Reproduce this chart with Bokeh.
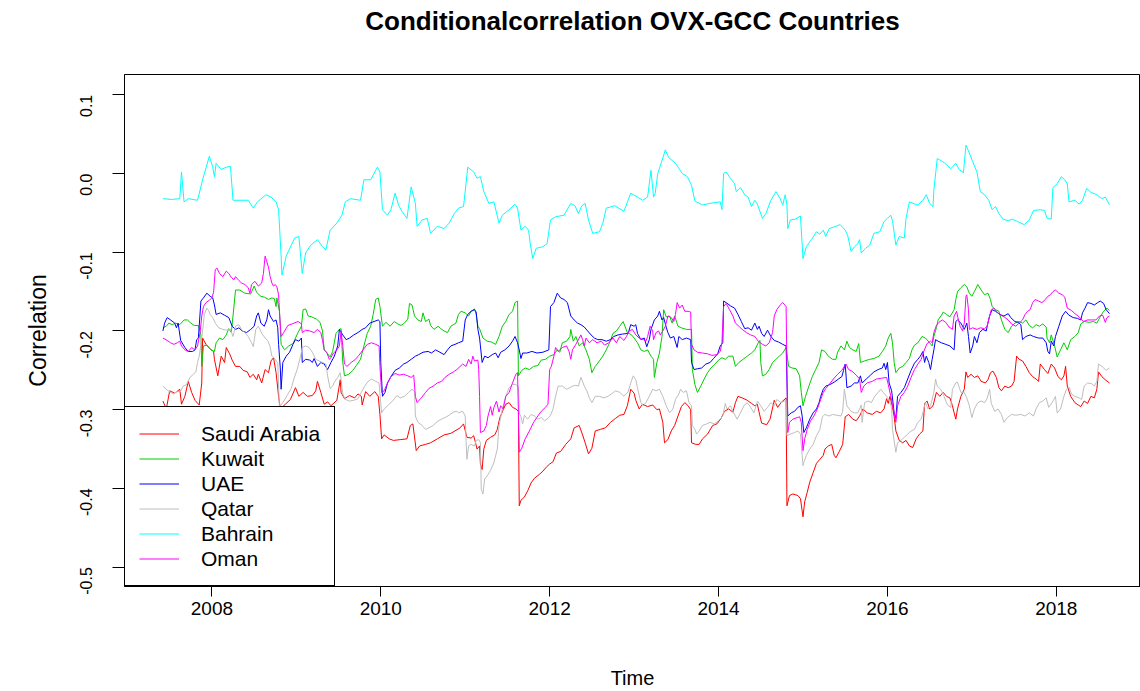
import math
from bokeh.plotting import figure
from bokeh.models import (ColumnDataSource, FixedTicker, PrintfTickFormatter,
                          Legend, LegendItem, Range1d, Title)
from bokeh.embed import file_html
from bokeh.resources import INLINE

TITLE = "Conditionalcorrelation OVX-GCC Countries"
X_LABEL = "Time"
Y_LABEL = "Correlation"
X_TICKS = [2008, 2010, 2012, 2014, 2016, 2018]
Y_TICKS = [-0.5, -0.4, -0.3, -0.2, -0.1, 0.0, 0.1]
NAMES = ["Saudi Arabia", "Kuwait", "UAE", "Qatar", "Bahrain", "Oman"]
COLORS = ["#FF0000", "#00CD00", "#0000FF", "#BEBEBE", "#00FFFF", "#FF00FF"]

SAUDI = [(2007.42,-0.289),(2007.46,-0.299),(2007.50,-0.276),(2007.56,-0.279),(2007.62,-0.274),(2007.64,-0.293),(2007.68,-0.283),(2007.72,-0.264),(2007.76,-0.278),(2007.80,-0.288),(2007.85,-0.294),(2007.88,-0.266),(2007.89,-0.209),(2007.93,-0.217),(2007.98,-0.223),(2008.02,-0.226),(2008.03,-0.236),(2008.07,-0.257),(2008.11,-0.232),(2008.15,-0.240),(2008.17,-0.221),(2008.21,-0.229),(2008.24,-0.237),(2008.28,-0.245),(2008.33,-0.245),(2008.37,-0.250),(2008.42,-0.252),(2008.45,-0.259),(2008.49,-0.255),(2008.53,-0.262),(2008.55,-0.255),(2008.59,-0.266),(2008.63,-0.249),(2008.67,-0.253),(2008.70,-0.238),(2008.73,-0.234),(2008.76,-0.253),(2008.79,-0.283),(2008.81,-0.299),(2008.87,-0.293),
(2008.93,-0.287),(2008.99,-0.272),(2009.03,-0.283),(2009.08,-0.278),(2009.13,-0.283),(2009.19,-0.282),(2009.23,-0.276),(2009.25,-0.264),(2009.29,-0.278),(2009.33,-0.293),(2009.37,-0.290),(2009.41,-0.295),(2009.48,-0.288),(2009.52,-0.262),(2009.53,-0.278),(2009.57,-0.286),(2009.63,-0.282),(2009.69,-0.285),(2009.73,-0.280),(2009.77,-0.283),(2009.78,-0.294),(2009.82,-0.277),(2009.87,-0.283),(2009.93,-0.277),(2009.97,-0.283),(2009.99,-0.306),(2010.01,-0.337),(2010.04,-0.332),(2010.10,-0.337),(2010.15,-0.339),(2010.23,-0.338),(2010.31,-0.337),(2010.35,-0.320),(2010.38,-0.318),(2010.42,-0.352),(2010.46,-0.346),(2010.53,-0.344),(2010.59,-0.342),(2010.67,-0.337),(2010.75,-0.332),(2010.83,-0.330),
(2010.94,-0.323),(2010.98,-0.318),(2011.02,-0.335),(2011.07,-0.336),(2011.10,-0.333),(2011.12,-0.341),(2011.14,-0.350),(2011.17,-0.346),(2011.18,-0.369),(2011.20,-0.376),(2011.22,-0.350),(2011.25,-0.339),(2011.30,-0.335),(2011.35,-0.332),(2011.38,-0.325),(2011.41,-0.310),(2011.45,-0.300),(2011.48,-0.293),(2011.52,-0.291),(2011.56,-0.297),(2011.60,-0.299),(2011.63,-0.302),(2011.64,-0.422),(2011.66,-0.415),(2011.70,-0.411),(2011.74,-0.403),(2011.78,-0.393),(2011.82,-0.387),(2011.88,-0.382),(2011.92,-0.378),(2011.96,-0.373),(2012.00,-0.369),(2012.04,-0.366),(2012.08,-0.355),(2012.13,-0.353),(2012.19,-0.344),(2012.25,-0.337),(2012.29,-0.323),(2012.35,-0.320),(2012.39,-0.332),(2012.42,-0.342),(2012.46,-0.356),(2012.50,-0.349),(2012.54,-0.327),(2012.60,-0.325),(2012.66,-0.323),(2012.72,-0.316),(2012.78,-0.311),(2012.83,-0.307),
(2012.88,-0.306),(2012.92,-0.295),(2012.96,-0.274),(2013.00,-0.279),(2013.02,-0.288),(2013.06,-0.299),(2013.10,-0.293),(2013.16,-0.296),(2013.22,-0.294),(2013.27,-0.300),(2013.30,-0.299),(2013.34,-0.316),(2013.36,-0.342),(2013.40,-0.338),(2013.44,-0.327),(2013.48,-0.320),(2013.52,-0.308),(2013.56,-0.296),(2013.60,-0.291),(2013.64,-0.295),(2013.67,-0.300),(2013.68,-0.342),(2013.73,-0.344),(2013.77,-0.344),(2013.81,-0.337),(2013.87,-0.331),(2013.93,-0.320),(2013.98,-0.318),(2014.03,-0.311),(2014.07,-0.302),(2014.12,-0.299),(2014.17,-0.303),(2014.20,-0.291),(2014.23,-0.283),(2014.28,-0.285),(2014.34,-0.288),(2014.39,-0.292),(2014.43,-0.295),(2014.46,-0.293),(2014.48,-0.303),(2014.51,-0.317),(2014.57,-0.319),(2014.61,-0.312),(2014.66,-0.288),(2014.70,-0.297),(2014.74,-0.291),(2014.80,-0.285),(2014.81,-0.422),
(2014.84,-0.409),(2014.88,-0.407),(2014.94,-0.409),(2014.97,-0.413),(2015.00,-0.436),(2015.02,-0.417),(2015.05,-0.405),(2015.08,-0.392),(2015.12,-0.380),(2015.16,-0.368),(2015.20,-0.363),(2015.24,-0.358),(2015.26,-0.350),(2015.30,-0.346),(2015.34,-0.344),(2015.37,-0.358),(2015.39,-0.361),(2015.43,-0.353),(2015.47,-0.344),(2015.50,-0.309),(2015.54,-0.306),(2015.59,-0.312),(2015.63,-0.314),(2015.67,-0.308),(2015.71,-0.299),(2015.76,-0.304),(2015.82,-0.306),(2015.87,-0.302),(2015.92,-0.304),(2015.96,-0.299),(2015.99,-0.286),(2016.01,-0.292),(2016.03,-0.283),(2016.06,-0.297),(2016.08,-0.309),(2016.10,-0.327),(2016.14,-0.339),(2016.18,-0.342),(2016.22,-0.339),(2016.26,-0.346),(2016.30,-0.348),(2016.34,-0.337),(2016.38,-0.331),(2016.42,-0.327),(2016.44,-0.292),(2016.47,-0.289),(2016.50,-0.299),(2016.54,-0.295),(2016.58,-0.278),(2016.62,-0.283),(2016.66,-0.278),(2016.70,-0.283),(2016.74,-0.285),
(2016.77,-0.295),(2016.79,-0.304),(2016.81,-0.312),(2016.83,-0.299),(2016.87,-0.283),(2016.91,-0.274),(2016.93,-0.252),(2016.95,-0.259),(2016.99,-0.255),(2017.03,-0.259),(2017.07,-0.257),(2017.11,-0.264),(2017.16,-0.266),(2017.19,-0.262),(2017.22,-0.253),(2017.25,-0.251),(2017.29,-0.259),(2017.32,-0.272),(2017.35,-0.276),(2017.39,-0.270),(2017.43,-0.272),(2017.47,-0.270),(2017.50,-0.264),(2017.53,-0.232),(2017.56,-0.236),(2017.60,-0.238),(2017.64,-0.245),(2017.68,-0.253),(2017.72,-0.258),(2017.76,-0.261),(2017.79,-0.264),(2017.81,-0.242),(2017.86,-0.249),(2017.90,-0.254),(2017.94,-0.242),(2017.98,-0.247),(2018.02,-0.258),(2018.06,-0.262),(2018.09,-0.257),(2018.11,-0.245),(2018.13,-0.270),(2018.17,-0.283),(2018.22,-0.291),(2018.26,-0.294),(2018.29,-0.296),(2018.33,-0.289),(2018.37,-0.292),(2018.41,-0.283),(2018.45,-0.285),(2018.48,-0.274),(2018.50,-0.252),(2018.54,-0.258),(2018.58,-0.262),(2018.63,-0.266)]

KUWAIT = [(2007.42,-0.196),(2007.46,-0.194),(2007.49,-0.190),(2007.53,-0.192),(2007.57,-0.190),(2007.62,-0.192),(2007.67,-0.186),(2007.71,-0.186),(2007.75,-0.190),(2007.79,-0.193),(2007.84,-0.193),(2007.87,-0.205),(2007.88,-0.245),(2007.90,-0.219),(2007.94,-0.218),(2007.99,-0.224),(2008.03,-0.226),(2008.05,-0.215),(2008.09,-0.209),(2008.13,-0.211),(2008.17,-0.205),(2008.20,-0.197),(2008.23,-0.202),(2008.25,-0.181),(2008.28,-0.148),(2008.33,-0.148),(2008.39,-0.152),(2008.46,-0.153),(2008.50,-0.143),(2008.53,-0.151),(2008.58,-0.156),(2008.62,-0.157),(2008.67,-0.160),(2008.71,-0.158),(2008.74,-0.159),(2008.76,-0.169),(2008.77,-0.158),(2008.80,-0.175),(2008.82,-0.217),(2008.86,-0.224),(2008.91,-0.219),(2008.96,-0.216),
(2009.02,-0.202),(2009.06,-0.194),(2009.08,-0.173),(2009.11,-0.172),(2009.14,-0.181),(2009.18,-0.182),(2009.24,-0.185),(2009.28,-0.189),(2009.31,-0.200),(2009.33,-0.224),(2009.37,-0.229),(2009.40,-0.233),(2009.43,-0.226),(2009.47,-0.203),(2009.51,-0.198),(2009.53,-0.197),(2009.55,-0.240),(2009.57,-0.257),(2009.62,-0.255),(2009.67,-0.250),(2009.71,-0.244),(2009.76,-0.236),(2009.80,-0.219),(2009.84,-0.203),(2009.88,-0.194),(2009.91,-0.179),(2009.94,-0.160),(2009.97,-0.158),(2009.99,-0.169),(2010.02,-0.194),(2010.06,-0.189),(2010.11,-0.194),(2010.16,-0.188),(2010.20,-0.191),(2010.24,-0.193),(2010.28,-0.190),(2010.32,-0.185),(2010.34,-0.165),(2010.37,-0.167),(2010.40,-0.181),(2010.44,-0.186),(2010.48,-0.188),(2010.50,-0.177),(2010.53,-0.188),(2010.57,-0.185),(2010.59,-0.193),(2010.63,-0.198),(2010.68,-0.194),(2010.71,-0.197),(2010.75,-0.200),(2010.79,-0.202),(2010.83,-0.194),(2010.89,-0.190),
(2010.92,-0.179),(2010.95,-0.175),(2011.00,-0.177),(2011.04,-0.181),(2011.07,-0.175),(2011.11,-0.172),(2011.13,-0.179),(2011.15,-0.194),(2011.17,-0.197),(2011.21,-0.209),(2011.26,-0.213),(2011.31,-0.214),(2011.36,-0.217),(2011.40,-0.207),(2011.44,-0.194),(2011.48,-0.188),(2011.52,-0.179),(2011.56,-0.175),(2011.59,-0.164),(2011.62,-0.162),(2011.63,-0.257),(2011.67,-0.250),(2011.71,-0.247),(2011.76,-0.249),(2011.81,-0.245),(2011.86,-0.244),(2011.90,-0.237),(2011.95,-0.236),(2012.00,-0.232),(2012.05,-0.230),(2012.09,-0.224),(2012.12,-0.227),(2012.15,-0.215),(2012.20,-0.213),(2012.24,-0.207),(2012.25,-0.198),(2012.28,-0.213),(2012.31,-0.207),(2012.35,-0.219),(2012.39,-0.215),(2012.43,-0.224),(2012.47,-0.236),(2012.50,-0.253),(2012.54,-0.245),(2012.59,-0.238),(2012.63,-0.232),(2012.67,-0.224),(2012.71,-0.215),(2012.75,-0.203),(2012.79,-0.200),(2012.83,-0.194),(2012.87,-0.188),
(2012.92,-0.202),(2012.97,-0.205),(2013.00,-0.209),(2013.04,-0.215),(2013.08,-0.224),(2013.12,-0.226),(2013.16,-0.224),(2013.20,-0.232),(2013.23,-0.236),(2013.24,-0.259),(2013.27,-0.240),(2013.30,-0.228),(2013.33,-0.207),(2013.35,-0.173),(2013.38,-0.182),(2013.42,-0.181),(2013.45,-0.190),(2013.48,-0.181),(2013.52,-0.194),(2013.56,-0.196),(2013.62,-0.198),(2013.68,-0.198),(2013.69,-0.249),(2013.72,-0.268),(2013.75,-0.278),(2013.79,-0.270),(2013.83,-0.261),(2013.87,-0.253),(2013.91,-0.247),(2013.96,-0.242),(2014.00,-0.237),(2014.04,-0.234),(2014.08,-0.236),(2014.12,-0.232),(2014.17,-0.232),(2014.20,-0.245),(2014.24,-0.240),(2014.29,-0.236),(2014.34,-0.232),(2014.39,-0.228),(2014.43,-0.224),(2014.47,-0.215),(2014.49,-0.212),(2014.50,-0.240),(2014.52,-0.257),(2014.56,-0.255),(2014.60,-0.249),(2014.64,-0.240),(2014.68,-0.236),(2014.72,-0.232),(2014.76,-0.228),(2014.80,-0.221),(2014.83,-0.245),
(2014.87,-0.247),(2014.92,-0.248),(2014.96,-0.257),(2014.98,-0.278),(2015.00,-0.295),(2015.03,-0.283),(2015.07,-0.270),(2015.11,-0.258),(2015.15,-0.249),(2015.19,-0.240),(2015.22,-0.224),(2015.26,-0.226),(2015.30,-0.232),(2015.35,-0.236),(2015.39,-0.236),(2015.41,-0.227),(2015.45,-0.219),(2015.49,-0.224),(2015.52,-0.213),(2015.55,-0.221),(2015.59,-0.224),(2015.63,-0.226),(2015.66,-0.216),(2015.68,-0.240),(2015.73,-0.238),(2015.79,-0.236),(2015.84,-0.235),(2015.90,-0.232),(2015.94,-0.226),(2015.98,-0.219),(2016.01,-0.209),(2016.04,-0.203),(2016.06,-0.215),(2016.08,-0.240),(2016.10,-0.253),(2016.14,-0.247),(2016.18,-0.245),(2016.22,-0.240),(2016.26,-0.235),(2016.29,-0.224),(2016.32,-0.218),(2016.36,-0.215),(2016.41,-0.207),(2016.45,-0.209),(2016.50,-0.215),(2016.53,-0.219),(2016.55,-0.207),(2016.58,-0.196),(2016.60,-0.186),(2016.64,-0.180),(2016.66,-0.176),(2016.70,-0.179),(2016.74,-0.182),
(2016.79,-0.173),(2016.81,-0.160),(2016.83,-0.150),(2016.87,-0.145),(2016.91,-0.141),(2016.94,-0.144),(2016.97,-0.152),(2017.00,-0.156),(2017.03,-0.150),(2017.07,-0.141),(2017.11,-0.148),(2017.15,-0.154),(2017.19,-0.152),(2017.22,-0.160),(2017.24,-0.169),(2017.28,-0.173),(2017.32,-0.175),(2017.35,-0.186),(2017.39,-0.198),(2017.43,-0.202),(2017.47,-0.194),(2017.51,-0.190),(2017.56,-0.188),(2017.60,-0.190),(2017.64,-0.186),(2017.68,-0.193),(2017.72,-0.196),(2017.76,-0.192),(2017.80,-0.194),(2017.84,-0.191),(2017.88,-0.195),(2017.89,-0.209),(2017.92,-0.215),(2017.94,-0.205),(2017.98,-0.219),(2018.01,-0.233),(2018.05,-0.224),(2018.09,-0.215),(2018.13,-0.224),(2018.17,-0.211),(2018.22,-0.207),(2018.26,-0.202),(2018.29,-0.191),(2018.33,-0.188),(2018.39,-0.189),(2018.44,-0.188),(2018.48,-0.190),(2018.52,-0.182),(2018.56,-0.175),(2018.60,-0.171),(2018.63,-0.174)]

UAE = [(2007.42,-0.200),(2007.44,-0.190),(2007.47,-0.183),(2007.51,-0.186),(2007.56,-0.190),(2007.58,-0.196),(2007.60,-0.190),(2007.63,-0.212),(2007.68,-0.221),(2007.72,-0.226),(2007.77,-0.226),(2007.80,-0.224),(2007.82,-0.211),(2007.84,-0.209),(2007.87,-0.162),(2007.90,-0.158),(2007.94,-0.152),(2007.98,-0.156),(2008.01,-0.158),(2008.03,-0.167),(2008.05,-0.179),(2008.10,-0.177),(2008.15,-0.180),(2008.20,-0.183),(2008.24,-0.194),(2008.28,-0.198),(2008.32,-0.196),(2008.36,-0.200),(2008.41,-0.202),(2008.46,-0.198),(2008.50,-0.194),(2008.53,-0.181),(2008.55,-0.177),(2008.58,-0.190),(2008.62,-0.194),(2008.65,-0.186),(2008.67,-0.173),(2008.69,-0.181),(2008.73,-0.188),(2008.76,-0.186),(2008.78,-0.196),(2008.79,-0.217),(2008.81,-0.247),(2008.82,-0.274),(2008.84,-0.240),(2008.88,-0.232),(2008.92,-0.227),(2008.96,-0.217),
(2008.99,-0.211),(2009.03,-0.213),(2009.06,-0.209),(2009.07,-0.240),(2009.11,-0.236),(2009.16,-0.237),(2009.19,-0.240),(2009.21,-0.235),(2009.25,-0.245),(2009.29,-0.240),(2009.33,-0.242),(2009.37,-0.249),(2009.41,-0.240),(2009.45,-0.232),(2009.49,-0.219),(2009.51,-0.198),(2009.55,-0.205),(2009.59,-0.211),(2009.63,-0.209),(2009.68,-0.205),(2009.73,-0.202),(2009.78,-0.198),(2009.82,-0.196),(2009.87,-0.190),(2009.92,-0.188),(2009.97,-0.186),(2009.99,-0.188),(2010.00,-0.240),(2010.02,-0.283),(2010.05,-0.278),(2010.08,-0.266),(2010.12,-0.258),(2010.17,-0.250),(2010.22,-0.247),(2010.27,-0.242),(2010.31,-0.240),(2010.36,-0.236),(2010.41,-0.232),(2010.45,-0.230),(2010.50,-0.227),(2010.56,-0.226),(2010.60,-0.228),(2010.65,-0.224),(2010.70,-0.227),(2010.75,-0.230),(2010.79,-0.224),(2010.83,-0.219),(2010.88,-0.217),
(2010.92,-0.215),(2010.97,-0.213),(2011.00,-0.186),(2011.03,-0.179),(2011.07,-0.175),(2011.11,-0.173),(2011.13,-0.176),(2011.15,-0.198),(2011.17,-0.209),(2011.18,-0.219),(2011.20,-0.240),(2011.23,-0.232),(2011.27,-0.234),(2011.32,-0.230),(2011.36,-0.228),(2011.39,-0.234),(2011.42,-0.227),(2011.47,-0.224),(2011.52,-0.219),(2011.56,-0.213),(2011.59,-0.207),(2011.62,-0.215),(2011.64,-0.224),(2011.66,-0.235),(2011.68,-0.228),(2011.73,-0.228),(2011.79,-0.226),(2011.85,-0.228),(2011.92,-0.227),(2011.99,-0.224),(2012.01,-0.169),(2012.05,-0.164),(2012.09,-0.152),(2012.13,-0.158),(2012.17,-0.160),(2012.21,-0.164),(2012.25,-0.181),(2012.29,-0.186),(2012.33,-0.190),(2012.37,-0.192),(2012.41,-0.195),(2012.45,-0.200),(2012.49,-0.205),(2012.53,-0.209),(2012.57,-0.211),(2012.62,-0.211),(2012.67,-0.213),(2012.72,-0.211),(2012.76,-0.207),(2012.81,-0.205),(2012.86,-0.204),
(2012.93,-0.203),(2012.96,-0.192),(2013.00,-0.194),(2013.02,-0.192),(2013.04,-0.203),(2013.08,-0.211),(2013.12,-0.209),(2013.15,-0.220),(2013.18,-0.211),(2013.20,-0.198),(2013.24,-0.186),(2013.28,-0.181),(2013.30,-0.175),(2013.33,-0.186),(2013.35,-0.183),(2013.38,-0.195),(2013.40,-0.202),(2013.43,-0.209),(2013.47,-0.207),(2013.51,-0.221),(2013.53,-0.207),(2013.57,-0.211),(2013.62,-0.209),(2013.67,-0.211),(2013.68,-0.240),(2013.71,-0.249),(2013.75,-0.248),(2013.80,-0.247),(2013.85,-0.242),(2013.90,-0.240),(2013.94,-0.235),(2013.99,-0.229),(2014.02,-0.219),(2014.05,-0.215),(2014.06,-0.162),(2014.09,-0.164),(2014.14,-0.168),(2014.19,-0.171),(2014.23,-0.179),(2014.27,-0.188),(2014.31,-0.197),(2014.35,-0.196),(2014.39,-0.199),(2014.43,-0.190),(2014.46,-0.198),(2014.48,-0.194),(2014.51,-0.203),(2014.54,-0.207),(2014.58,-0.199),(2014.62,-0.207),(2014.66,-0.212),(2014.71,-0.214),(2014.76,-0.217),(2014.80,-0.219),
(2014.82,-0.308),(2014.86,-0.304),(2014.90,-0.302),(2014.94,-0.297),(2014.97,-0.295),(2014.99,-0.308),(2015.01,-0.329),(2015.04,-0.323),(2015.08,-0.312),(2015.12,-0.304),(2015.16,-0.299),(2015.19,-0.291),(2015.21,-0.283),(2015.24,-0.274),(2015.27,-0.270),(2015.32,-0.268),(2015.37,-0.265),(2015.42,-0.261),(2015.46,-0.258),(2015.48,-0.250),(2015.50,-0.242),(2015.52,-0.272),(2015.57,-0.270),(2015.61,-0.266),(2015.65,-0.266),(2015.68,-0.257),(2015.70,-0.266),(2015.75,-0.261),(2015.80,-0.256),(2015.84,-0.252),(2015.89,-0.249),(2015.94,-0.247),(2015.96,-0.241),(2015.98,-0.249),(2016.00,-0.240),(2016.02,-0.266),(2016.05,-0.276),(2016.08,-0.304),(2016.10,-0.311),(2016.12,-0.283),(2016.16,-0.278),(2016.20,-0.272),(2016.24,-0.261),(2016.28,-0.250),(2016.32,-0.241),(2016.36,-0.236),(2016.39,-0.232),(2016.42,-0.226),(2016.44,-0.240),(2016.46,-0.232),(2016.49,-0.240),(2016.51,-0.249),(2016.53,-0.236),(2016.55,-0.224),(2016.57,-0.211),(2016.60,-0.213),(2016.64,-0.215),(2016.69,-0.217),(2016.74,-0.219),(2016.79,-0.224),
(2016.81,-0.188),(2016.83,-0.186),(2016.87,-0.190),(2016.91,-0.198),(2016.94,-0.190),(2016.96,-0.207),(2016.98,-0.228),(2017.01,-0.219),(2017.03,-0.207),(2017.06,-0.215),(2017.09,-0.202),(2017.13,-0.198),(2017.17,-0.200),(2017.19,-0.190),(2017.21,-0.181),(2017.24,-0.173),(2017.28,-0.175),(2017.33,-0.179),(2017.38,-0.181),(2017.43,-0.178),(2017.46,-0.183),(2017.51,-0.188),(2017.55,-0.189),(2017.58,-0.192),(2017.60,-0.211),(2017.64,-0.207),(2017.69,-0.205),(2017.73,-0.207),(2017.79,-0.209),(2017.84,-0.209),(2017.88,-0.215),(2017.90,-0.226),(2017.92,-0.229),(2017.94,-0.213),(2017.97,-0.219),(2017.99,-0.207),(2018.03,-0.194),(2018.07,-0.181),(2018.11,-0.175),(2018.15,-0.180),(2018.20,-0.183),(2018.25,-0.184),(2018.29,-0.186),(2018.31,-0.177),(2018.34,-0.171),(2018.37,-0.164),(2018.41,-0.165),(2018.45,-0.167),(2018.49,-0.164),(2018.52,-0.162),(2018.56,-0.165),(2018.59,-0.173),(2018.63,-0.178)]

QATAR = [(2007.42,-0.270),(2007.47,-0.275),(2007.51,-0.278),(2007.55,-0.280),(2007.59,-0.276),(2007.62,-0.278),(2007.66,-0.270),(2007.70,-0.268),(2007.74,-0.259),(2007.78,-0.255),(2007.81,-0.252),(2007.83,-0.240),(2007.85,-0.232),(2007.87,-0.217),(2007.89,-0.200),(2007.91,-0.179),(2007.94,-0.171),(2007.96,-0.174),(2007.98,-0.179),(2008.01,-0.183),(2008.04,-0.190),(2008.08,-0.196),(2008.13,-0.198),(2008.17,-0.199),(2008.22,-0.198),(2008.25,-0.207),(2008.28,-0.194),(2008.32,-0.192),(2008.35,-0.198),(2008.39,-0.202),(2008.43,-0.207),(2008.47,-0.215),(2008.49,-0.220),(2008.52,-0.198),(2008.55,-0.194),(2008.59,-0.203),(2008.63,-0.209),(2008.66,-0.212),(2008.69,-0.220),(2008.71,-0.232),(2008.75,-0.236),(2008.78,-0.241),(2008.80,-0.297),(2008.84,-0.291),(2008.89,-0.282),(2008.94,-0.273),
(2008.97,-0.261),(2009.01,-0.249),(2009.05,-0.232),(2009.07,-0.221),(2009.11,-0.219),(2009.15,-0.221),(2009.19,-0.227),(2009.23,-0.236),(2009.27,-0.238),(2009.31,-0.240),(2009.35,-0.242),(2009.37,-0.257),(2009.40,-0.273),(2009.43,-0.270),(2009.45,-0.265),(2009.49,-0.259),(2009.52,-0.253),(2009.55,-0.280),(2009.58,-0.287),(2009.63,-0.289),(2009.68,-0.288),(2009.73,-0.286),(2009.77,-0.278),(2009.81,-0.270),(2009.85,-0.264),(2009.89,-0.261),(2009.94,-0.264),(2009.98,-0.266),(2009.99,-0.280),(2010.01,-0.304),(2010.04,-0.299),(2010.09,-0.294),(2010.14,-0.289),(2010.19,-0.282),(2010.23,-0.285),(2010.28,-0.283),(2010.33,-0.278),(2010.37,-0.274),(2010.40,-0.277),(2010.41,-0.308),(2010.44,-0.316),(2010.49,-0.320),(2010.53,-0.325),(2010.57,-0.323),(2010.62,-0.320),(2010.67,-0.315),(2010.72,-0.312),(2010.76,-0.310),(2010.81,-0.307),(2010.86,-0.303),(2010.90,-0.302),
(2010.92,-0.304),(2010.97,-0.302),(2011.00,-0.308),(2011.01,-0.339),(2011.02,-0.363),(2011.04,-0.346),(2011.07,-0.344),(2011.11,-0.346),(2011.13,-0.339),(2011.16,-0.338),(2011.18,-0.342),(2011.19,-0.401),(2011.21,-0.407),(2011.23,-0.388),(2011.26,-0.384),(2011.30,-0.377),(2011.34,-0.367),(2011.38,-0.350),(2011.40,-0.320),(2011.44,-0.299),(2011.48,-0.283),(2011.52,-0.272),(2011.56,-0.268),(2011.60,-0.268),(2011.63,-0.271),(2011.64,-0.304),(2011.66,-0.309),(2011.68,-0.318),(2011.70,-0.307),(2011.74,-0.312),(2011.78,-0.306),(2011.82,-0.308),(2011.86,-0.312),(2011.90,-0.310),(2011.94,-0.314),(2011.98,-0.311),(2012.01,-0.307),(2012.04,-0.299),(2012.07,-0.283),(2012.10,-0.270),(2012.15,-0.270),(2012.20,-0.274),(2012.24,-0.272),(2012.27,-0.270),(2012.31,-0.269),(2012.34,-0.270),(2012.37,-0.259),(2012.41,-0.270),(2012.44,-0.276),(2012.47,-0.285),(2012.50,-0.291),(2012.54,-0.283),(2012.59,-0.283),(2012.64,-0.285),(2012.69,-0.283),(2012.73,-0.280),(2012.78,-0.276),(2012.83,-0.278),
(2012.88,-0.283),(2012.93,-0.277),(2012.96,-0.266),(2012.99,-0.257),(2013.02,-0.262),(2013.04,-0.272),(2013.08,-0.291),(2013.11,-0.295),(2013.14,-0.291),(2013.18,-0.283),(2013.22,-0.274),(2013.26,-0.276),(2013.30,-0.274),(2013.34,-0.283),(2013.38,-0.295),(2013.42,-0.304),(2013.46,-0.299),(2013.49,-0.287),(2013.53,-0.280),(2013.55,-0.274),(2013.58,-0.278),(2013.62,-0.276),(2013.65,-0.291),(2013.68,-0.295),(2013.69,-0.320),(2013.72,-0.325),(2013.74,-0.331),(2013.77,-0.327),(2013.81,-0.320),(2013.86,-0.318),(2013.90,-0.316),(2013.95,-0.318),(2014.00,-0.314),(2014.05,-0.308),(2014.08,-0.292),(2014.10,-0.299),(2014.14,-0.295),(2014.18,-0.304),(2014.22,-0.312),(2014.26,-0.304),(2014.30,-0.295),(2014.34,-0.291),(2014.38,-0.297),(2014.42,-0.304),(2014.46,-0.289),(2014.50,-0.295),(2014.54,-0.302),(2014.58,-0.297),(2014.62,-0.291),(2014.66,-0.295),(2014.69,-0.287),(2014.74,-0.291),(2014.80,-0.288),
(2014.81,-0.333),(2014.85,-0.331),(2014.90,-0.329),(2014.94,-0.327),(2014.97,-0.331),(2015.00,-0.371),(2015.01,-0.367),(2015.04,-0.358),(2015.08,-0.350),(2015.12,-0.344),(2015.16,-0.333),(2015.20,-0.325),(2015.23,-0.309),(2015.26,-0.306),(2015.31,-0.308),(2015.35,-0.306),(2015.40,-0.307),(2015.45,-0.308),(2015.47,-0.302),(2015.49,-0.274),(2015.52,-0.295),(2015.57,-0.302),(2015.61,-0.304),(2015.65,-0.304),(2015.69,-0.294),(2015.70,-0.316),(2015.73,-0.291),(2015.77,-0.289),(2015.81,-0.291),(2015.85,-0.283),(2015.89,-0.278),(2015.92,-0.274),(2015.95,-0.278),(2015.99,-0.283),(2016.03,-0.289),(2016.05,-0.299),(2016.06,-0.325),(2016.10,-0.354),(2016.12,-0.342),(2016.16,-0.339),(2016.20,-0.335),(2016.24,-0.331),(2016.28,-0.327),(2016.32,-0.325),(2016.36,-0.316),(2016.40,-0.312),(2016.43,-0.299),(2016.45,-0.291),(2016.48,-0.299),(2016.51,-0.295),(2016.55,-0.278),(2016.57,-0.261),(2016.59,-0.270),(2016.63,-0.274),(2016.67,-0.283),(2016.71,-0.294),(2016.75,-0.297),
(2016.77,-0.274),(2016.81,-0.266),(2016.83,-0.265),(2016.87,-0.278),(2016.91,-0.278),(2016.94,-0.285),(2016.97,-0.295),(2017.00,-0.310),(2017.03,-0.299),(2017.07,-0.291),(2017.11,-0.289),(2017.15,-0.291),(2017.18,-0.286),(2017.21,-0.274),(2017.23,-0.292),(2017.27,-0.302),(2017.31,-0.299),(2017.35,-0.306),(2017.38,-0.316),(2017.42,-0.310),(2017.47,-0.306),(2017.52,-0.307),(2017.58,-0.306),(2017.63,-0.308),(2017.68,-0.304),(2017.73,-0.308),(2017.76,-0.299),(2017.80,-0.291),(2017.84,-0.289),(2017.88,-0.285),(2017.91,-0.297),(2017.95,-0.291),(2017.99,-0.283),(2018.01,-0.304),(2018.05,-0.299),(2018.09,-0.283),(2018.12,-0.274),(2018.15,-0.271),(2018.18,-0.280),(2018.22,-0.283),(2018.27,-0.285),(2018.30,-0.287),(2018.33,-0.270),(2018.37,-0.266),(2018.42,-0.267),(2018.45,-0.270),(2018.48,-0.264),(2018.50,-0.242),(2018.54,-0.245),(2018.59,-0.250),(2018.63,-0.247)]

BAHRAIN = [(2007.42,-0.032),(2007.52,-0.033),(2007.62,-0.032),(2007.64,0.002),(2007.67,-0.036),(2007.72,-0.032),(2007.83,-0.034),(2007.89,-0.008),(2007.97,0.022),(2008.01,0.008),(2008.03,-0.004),(2008.05,0.013),(2008.11,0.005),(2008.17,0.008),(2008.22,0.009),(2008.25,-0.034),(2008.43,-0.034),(2008.49,-0.044),(2008.54,-0.036),(2008.64,-0.027),(2008.70,-0.030),(2008.76,-0.036),(2008.79,-0.046),(2008.82,-0.105),(2008.83,-0.129),(2008.88,-0.105),(2008.94,-0.091),(2008.98,-0.082),
(2009.03,-0.080),(2009.07,-0.127),(2009.11,-0.101),(2009.17,-0.091),(2009.25,-0.084),(2009.31,-0.093),(2009.35,-0.097),(2009.40,-0.072),(2009.48,-0.063),(2009.54,-0.053),(2009.58,-0.036),(2009.64,-0.032),(2009.76,-0.034),(2009.80,-0.008),(2009.88,-0.008),(2009.96,0.008),(2009.99,0.002),(2010.02,-0.046),(2010.08,-0.053),(2010.12,-0.046),(2010.17,-0.025),(2010.21,-0.040),(2010.25,-0.048),(2010.31,-0.057),(2010.36,-0.017),(2010.41,-0.038),(2010.43,-0.067),(2010.49,-0.059),(2010.55,-0.057),(2010.59,-0.076),(2010.67,-0.067),(2010.75,-0.070),(2010.81,-0.063),(2010.87,-0.051),(2010.92,-0.044),
(2010.98,-0.042),(2011.03,0.008),(2011.10,0.002),(2011.14,-0.006),(2011.18,-0.004),(2011.22,-0.023),(2011.28,-0.038),(2011.34,-0.036),(2011.40,-0.063),(2011.44,-0.053),(2011.52,-0.046),(2011.59,-0.039),(2011.62,-0.044),(2011.66,-0.072),(2011.71,-0.067),(2011.75,-0.072),(2011.77,-0.089),(2011.80,-0.108),(2011.84,-0.095),(2011.92,-0.093),(2011.97,-0.089),(2012.01,-0.059),(2012.07,-0.055),(2012.17,-0.053),(2012.25,-0.038),(2012.30,-0.041),(2012.34,-0.051),(2012.38,-0.041),(2012.42,-0.038),(2012.46,-0.059),(2012.51,-0.076),(2012.59,-0.074),(2012.63,-0.063),(2012.67,-0.044),(2012.77,-0.041),(2012.88,-0.048),
(2012.96,-0.025),(2013.04,-0.030),(2013.10,-0.034),(2013.16,-0.030),(2013.20,0.004),(2013.23,-0.030),(2013.25,-0.025),(2013.28,0.000),(2013.32,0.013),(2013.37,0.030),(2013.41,0.020),(2013.49,0.013),(2013.57,0.000),(2013.63,-0.004),(2013.68,-0.015),(2013.72,-0.035),(2013.81,-0.040),(2013.90,-0.038),(2014.02,-0.036),(2014.04,-0.046),(2014.06,0.000),(2014.09,0.002),(2014.14,-0.006),(2014.19,-0.013),(2014.21,-0.023),(2014.26,-0.018),(2014.31,-0.027),(2014.35,-0.030),(2014.39,-0.042),(2014.43,-0.034),(2014.46,-0.039),(2014.52,-0.057),(2014.56,-0.051),(2014.62,-0.034),(2014.68,-0.023),(2014.73,-0.032),(2014.76,-0.040),(2014.79,-0.027),(2014.81,-0.040),
(2014.82,-0.070),(2014.85,-0.059),(2014.91,-0.058),(2014.97,-0.054),(2015.00,-0.108),(2015.04,-0.093),(2015.10,-0.084),(2015.16,-0.074),(2015.20,-0.077),(2015.24,-0.072),(2015.27,-0.080),(2015.31,-0.070),(2015.39,-0.067),(2015.44,-0.065),(2015.50,-0.072),(2015.53,-0.079),(2015.57,-0.099),(2015.61,-0.093),(2015.65,-0.089),(2015.67,-0.084),(2015.69,-0.101),(2015.74,-0.095),(2015.79,-0.091),(2015.84,-0.076),(2015.91,-0.074),(2015.96,-0.061),(2016.00,-0.057),(2016.04,-0.053),(2016.06,-0.060),(2016.10,-0.091),(2016.14,-0.080),(2016.20,-0.082),(2016.22,-0.057),(2016.26,-0.036),(2016.33,-0.039),(2016.36,-0.040),(2016.42,-0.034),(2016.46,-0.027),(2016.50,-0.038),(2016.54,-0.042),(2016.55,-0.021),(2016.59,0.019),(2016.64,0.016),(2016.68,0.013),(2016.75,0.006),
(2016.81,0.013),(2016.85,0.005),(2016.90,0.001),(2016.93,0.036),(2016.97,0.026),(2017.01,0.015),(2017.06,0.002),(2017.10,-0.023),(2017.15,-0.027),(2017.20,-0.034),(2017.24,-0.046),(2017.28,-0.042),(2017.32,-0.051),(2017.37,-0.058),(2017.43,-0.060),(2017.48,-0.058),(2017.54,-0.061),(2017.62,-0.065),(2017.68,-0.059),(2017.73,-0.047),(2017.81,-0.046),(2017.86,-0.047),(2017.89,-0.057),(2017.94,-0.058),(2017.96,-0.018),(2018.01,-0.013),(2018.06,-0.004),(2018.10,-0.008),(2018.13,-0.013),(2018.15,-0.036),(2018.22,-0.034),(2018.27,-0.039),(2018.31,-0.034),(2018.36,-0.019),(2018.41,-0.024),(2018.48,-0.027),(2018.54,-0.032),(2018.58,-0.030),(2018.63,-0.040)]

OMAN = [(2007.42,-0.209),(2007.47,-0.212),(2007.51,-0.215),(2007.55,-0.217),(2007.59,-0.215),(2007.62,-0.213),(2007.64,-0.219),(2007.68,-0.224),(2007.72,-0.226),(2007.76,-0.221),(2007.80,-0.224),(2007.83,-0.219),(2007.86,-0.202),(2007.88,-0.181),(2007.90,-0.169),(2007.93,-0.164),(2007.97,-0.161),(2008.00,-0.158),(2008.02,-0.151),(2008.04,-0.122),(2008.06,-0.120),(2008.09,-0.127),(2008.13,-0.131),(2008.17,-0.124),(2008.20,-0.127),(2008.23,-0.132),(2008.26,-0.135),(2008.28,-0.131),(2008.32,-0.136),(2008.35,-0.139),(2008.39,-0.141),(2008.43,-0.145),(2008.45,-0.152),(2008.47,-0.141),(2008.51,-0.137),(2008.55,-0.143),(2008.59,-0.139),(2008.61,-0.127),(2008.63,-0.105),(2008.65,-0.112),(2008.67,-0.119),(2008.69,-0.131),(2008.71,-0.139),(2008.73,-0.143),(2008.75,-0.141),(2008.77,-0.144),(2008.79,-0.154),(2008.80,-0.175),(2008.82,-0.207),(2008.85,-0.202),(2008.90,-0.193),(2008.95,-0.191),
(2009.02,-0.188),(2009.06,-0.191),(2009.07,-0.202),(2009.11,-0.199),(2009.16,-0.200),(2009.21,-0.202),(2009.25,-0.198),(2009.29,-0.202),(2009.31,-0.212),(2009.33,-0.224),(2009.36,-0.227),(2009.39,-0.236),(2009.41,-0.234),(2009.44,-0.228),(2009.48,-0.224),(2009.51,-0.219),(2009.53,-0.200),(2009.55,-0.219),(2009.57,-0.242),(2009.60,-0.245),(2009.65,-0.240),(2009.70,-0.236),(2009.74,-0.231),(2009.79,-0.224),(2009.84,-0.217),(2009.89,-0.215),(2009.94,-0.217),(2009.98,-0.219),(2009.99,-0.245),(2010.01,-0.278),(2010.04,-0.276),(2010.08,-0.266),(2010.12,-0.258),(2010.17,-0.254),(2010.22,-0.256),(2010.27,-0.255),(2010.32,-0.257),(2010.36,-0.259),(2010.39,-0.256),(2010.41,-0.283),(2010.43,-0.291),(2010.48,-0.285),(2010.53,-0.278),(2010.57,-0.273),(2010.62,-0.270),(2010.67,-0.266),(2010.72,-0.264),(2010.76,-0.259),(2010.81,-0.255),(2010.86,-0.252),(2010.90,-0.249),
(2010.97,-0.242),(2011.01,-0.245),(2011.04,-0.236),(2011.07,-0.242),(2011.09,-0.232),(2011.11,-0.238),(2011.15,-0.237),(2011.16,-0.249),(2011.17,-0.283),(2011.18,-0.329),(2011.22,-0.327),(2011.25,-0.320),(2011.27,-0.308),(2011.30,-0.296),(2011.32,-0.307),(2011.34,-0.297),(2011.37,-0.289),(2011.40,-0.303),(2011.42,-0.295),(2011.45,-0.299),(2011.48,-0.283),(2011.52,-0.278),(2011.56,-0.266),(2011.60,-0.255),(2011.62,-0.253),(2011.64,-0.354),(2011.67,-0.349),(2011.71,-0.337),(2011.76,-0.327),(2011.81,-0.316),(2011.86,-0.308),(2011.90,-0.302),(2011.95,-0.297),(2011.98,-0.293),(2012.00,-0.249),(2012.02,-0.245),(2012.05,-0.232),(2012.07,-0.221),(2012.10,-0.226),(2012.15,-0.221),(2012.20,-0.219),(2012.23,-0.226),(2012.25,-0.236),(2012.27,-0.224),(2012.31,-0.217),(2012.37,-0.205),(2012.39,-0.211),(2012.41,-0.219),(2012.43,-0.209),(2012.47,-0.215),(2012.51,-0.211),(2012.56,-0.215),(2012.61,-0.213),(2012.65,-0.218),(2012.70,-0.215),(2012.75,-0.209),(2012.79,-0.215),(2012.83,-0.207),(2012.88,-0.212),
(2012.91,-0.207),(2012.94,-0.200),(2012.98,-0.198),(2013.02,-0.205),(2013.06,-0.209),(2013.11,-0.211),(2013.14,-0.213),(2013.16,-0.207),(2013.19,-0.194),(2013.22,-0.200),(2013.23,-0.211),(2013.26,-0.202),(2013.29,-0.200),(2013.31,-0.205),(2013.34,-0.200),(2013.37,-0.194),(2013.40,-0.181),(2013.44,-0.183),(2013.47,-0.188),(2013.49,-0.179),(2013.51,-0.164),(2013.54,-0.171),(2013.57,-0.167),(2013.60,-0.175),(2013.64,-0.175),(2013.67,-0.176),(2013.68,-0.217),(2013.71,-0.224),(2013.75,-0.227),(2013.81,-0.228),(2013.87,-0.229),(2013.92,-0.231),(2013.98,-0.230),(2014.02,-0.226),(2014.04,-0.215),(2014.06,-0.169),(2014.09,-0.165),(2014.13,-0.173),(2014.17,-0.181),(2014.20,-0.190),(2014.25,-0.195),(2014.28,-0.198),(2014.33,-0.202),(2014.38,-0.205),(2014.43,-0.207),(2014.47,-0.213),(2014.52,-0.217),(2014.56,-0.219),(2014.60,-0.215),(2014.64,-0.202),(2014.66,-0.181),(2014.69,-0.173),(2014.73,-0.167),(2014.76,-0.164),(2014.80,-0.169),(2014.82,-0.329),
(2014.84,-0.316),(2014.88,-0.312),(2014.93,-0.310),(2014.96,-0.309),(2014.98,-0.316),(2015.00,-0.352),(2015.02,-0.337),(2015.05,-0.325),(2015.09,-0.314),(2015.13,-0.308),(2015.17,-0.299),(2015.21,-0.287),(2015.24,-0.278),(2015.27,-0.273),(2015.31,-0.268),(2015.36,-0.261),(2015.41,-0.255),(2015.46,-0.250),(2015.49,-0.245),(2015.51,-0.242),(2015.54,-0.249),(2015.58,-0.251),(2015.63,-0.256),(2015.67,-0.261),(2015.69,-0.278),(2015.72,-0.270),(2015.76,-0.266),(2015.82,-0.264),(2015.87,-0.261),(2015.93,-0.260),(2015.99,-0.259),(2016.01,-0.268),(2016.04,-0.283),(2016.07,-0.299),(2016.10,-0.316),(2016.12,-0.295),(2016.16,-0.283),(2016.20,-0.278),(2016.24,-0.270),(2016.28,-0.259),(2016.32,-0.249),(2016.36,-0.242),(2016.40,-0.236),(2016.43,-0.226),(2016.47,-0.216),(2016.51,-0.213),(2016.53,-0.215),(2016.55,-0.202),(2016.58,-0.193),(2016.61,-0.189),(2016.65,-0.186),(2016.69,-0.189),(2016.73,-0.195),(2016.77,-0.198),
(2016.79,-0.181),(2016.82,-0.175),(2016.83,-0.181),(2016.86,-0.194),(2016.89,-0.200),(2016.91,-0.190),(2016.93,-0.156),(2016.94,-0.154),(2016.96,-0.173),(2016.97,-0.198),(2017.01,-0.196),(2017.06,-0.198),(2017.10,-0.196),(2017.15,-0.197),(2017.18,-0.194),(2017.21,-0.181),(2017.23,-0.173),(2017.26,-0.171),(2017.29,-0.175),(2017.33,-0.179),(2017.38,-0.182),(2017.43,-0.186),(2017.47,-0.191),(2017.52,-0.194),(2017.56,-0.190),(2017.60,-0.186),(2017.63,-0.179),(2017.66,-0.175),(2017.69,-0.173),(2017.72,-0.164),(2017.75,-0.160),(2017.79,-0.162),(2017.83,-0.164),(2017.87,-0.160),(2017.90,-0.156),(2017.93,-0.154),(2017.96,-0.150),(2017.99,-0.148),(2018.03,-0.152),(2018.07,-0.154),(2018.10,-0.157),(2018.13,-0.171),(2018.18,-0.174),(2018.22,-0.178),(2018.27,-0.182),(2018.32,-0.188),(2018.37,-0.186),(2018.42,-0.186),(2018.47,-0.186),(2018.51,-0.181),(2018.55,-0.180),(2018.58,-0.189),(2018.60,-0.183),(2018.63,-0.181)]

SERIES = [SAUDI, KUWAIT, UAE, QATAR, BAHRAIN, OMAN]

FONT = "Liberation Sans"

p = figure(width=1140, height=691, output_backend="svg", toolbar_location=None,
           x_range=Range1d(2006.965, 2018.997), y_range=Range1d(-0.5245, 0.1257),
           min_border_left=124, min_border_right=0, min_border_top=74,
           min_border_bottom=103)
p.background_fill_color = "white"
p.border_fill_color = "white"
p.outline_line_color = "black"
p.outline_line_width = 1
p.outline_line_alpha = 1.0
p.xgrid.visible = False
p.ygrid.visible = False

# spacer then title (first added sits nearest the frame)
spacer = Title(text=" ", text_font_size="10px", standoff=24)
p.add_layout(spacer, "above")
main_title = Title(text=TITLE, align="center", vertical_align="top", standoff=0,
                   text_font=FONT, text_font_size="26px", text_font_style="bold",
                   text_color="black")
p.add_layout(main_title, "above")

# x axis
xa = p.xaxis[0]
xa.ticker = FixedTicker(ticks=X_TICKS)
xa.formatter = PrintfTickFormatter(format="%d")
xa.axis_label = X_LABEL
xa.axis_label_text_font = FONT
xa.axis_label_text_font_size = "20px"
xa.axis_label_text_font_style = "normal"
xa.axis_label_text_color = "black"
xa.axis_label_standoff = 49
xa.major_label_text_font = FONT
xa.major_label_text_font_size = "19px"
xa.major_label_text_color = "black"
xa.major_label_standoff = 5
xa.major_tick_out = 10
xa.major_tick_in = 0
xa.minor_tick_out = 0
xa.minor_tick_in = 0
xa.axis_line_color = "black"
xa.major_tick_line_color = "black"

# y axis
ya = p.yaxis[0]
ya.ticker = FixedTicker(ticks=Y_TICKS)
ya.formatter = PrintfTickFormatter(format="%.1f")
ya.axis_label = Y_LABEL
ya.axis_label_text_font = FONT
ya.axis_label_text_font_size = "23px"
ya.axis_label_text_font_style = "normal"
ya.axis_label_text_color = "black"
ya.axis_label_standoff = 21
ya.major_label_text_font = FONT
ya.major_label_text_font_size = "16px"
ya.major_label_text_color = "black"
ya.major_label_orientation = math.pi / 2
ya.major_label_standoff = 26
ya.major_tick_out = 12
ya.major_tick_in = 0
ya.minor_tick_out = 0
ya.minor_tick_in = 0
ya.axis_line_color = "black"
ya.major_tick_line_color = "black"

items = []
for name, color, data in zip(NAMES, COLORS, SERIES):
    src = ColumnDataSource(data=dict(t=[d[0] for d in data], v=[d[1] for d in data]))
    r = p.line(x="t", y="v", source=src, line_color=color, line_width=1)
    items.append(LegendItem(label=name, renderers=[r]))

legend = Legend(items=items, location=(0, 0), margin=0, padding=14, spacing=0,
                border_line_color="black", border_line_width=1, border_line_alpha=1.0,
                background_fill_color="white", background_fill_alpha=1.0,
                label_text_font=FONT, label_text_font_size="21px",
                label_text_color="black",
                glyph_width=40, glyph_height=25, label_height=25, label_standoff=22)
p.add_layout(legend, "center")

open("out.html", "w").write(file_html(p, INLINE))
